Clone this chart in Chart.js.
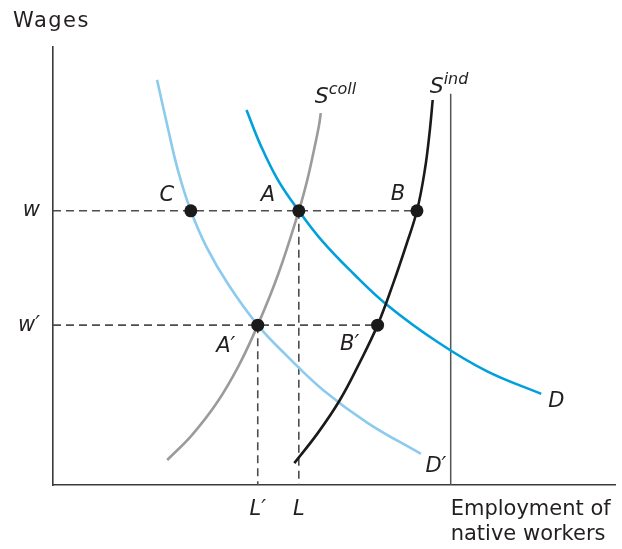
<!DOCTYPE html>
<html>
<head>
<meta charset="utf-8">
<script src="https://cdn.jsdelivr.net/npm/chart.js@4.4.1/dist/chart.umd.min.js"></script>
<style>
  html, body { margin: 0; padding: 0; background: #ffffff; }
  #wrap { width: 622px; height: 549px; position: relative; }
</style>
</head>
<body>
<div id="wrap"><canvas id="c" width="622" height="549"></canvas></div>
<script>
// ---- Data (axis units 0..100) ----
const wageLevels = [62.6, 36.5];            // w, w'
const wageTickLabels = ['w', 'w\u2032'];
const employmentLevels = [36.4, 43.7];      // L', L
const employmentTickLabels = ['L\u2032', 'L'];

// Demand curve D
const demandX = [34.4, 36.9, 40.0, 43.7, 48.0, 53.3, 59.4, 68.3, 77.1, 86.8];
const demandY = [85.6, 77.6, 69.6, 62.6, 55.5, 48.4, 41.1, 32.7, 26.0, 20.8];
// Shifted demand curve D'
const demandPrimeX = [18.5, 20.3, 22.2, 24.5, 27.3, 31.2, 36.4, 41.8, 48.0, 55.9, 65.4];
const demandPrimeY = [92.5, 82.2, 71.9, 62.6, 54.3, 45.7, 36.5, 29.2, 21.7, 14.2, 7.1];
// Collective supply S^coll
const supplyCollX = [20.3, 24.7, 29.1, 33.0, 36.4, 40.0, 43.7, 45.2, 46.4, 47.3, 47.6];
const supplyCollY = [5.7, 11.4, 18.7, 27.2, 36.5, 48.0, 62.6, 69.6, 76.5, 82.2, 84.9];
// Individual supply S^ind
const supplyIndX = [42.9, 47.1, 51.0, 54.5, 57.7, 60.5, 62.8, 64.7, 66.1, 67.0, 67.5];
const supplyIndY = [5.0, 11.9, 19.4, 27.9, 36.5, 46.1, 54.8, 62.6, 71.9, 81.1, 87.9];

// Labelled equilibrium points
const pointNames = ['C', 'A', 'B', 'A\u2032', 'B\u2032'];
const pointX = [24.5, 43.7, 64.7, 36.4, 57.7];
const pointY = [62.6, 62.6, 62.6, 36.5, 36.5];

// Total native labour force (vertical line)
const totalLabor = 70.7;
const totalLaborTop = 89.3;

// ---- Styles (not data) ----
const INK = '#231f20';
const FONT = '"DejaVu Sans"';
const DASH = [8, 5];
const pointLabelOffsets = [[-24, -15], [-31, -15], [-19, -16], [-32, 21], [-28, 19]];

const xy = (xs, ys) => xs.map((x, i) => ({ x: x, y: ys[i] }));

function curve(data, color, width) {
  return { type: 'scatter', data: data, showLine: true, borderColor: color, borderWidth: width,
           pointRadius: 0, tension: 0.4, fill: false };
}
function dashLine(data) {
  return { type: 'scatter', data: data, showLine: true, borderColor: '#4d4d4d', borderWidth: 1.6,
           borderDash: DASH, pointRadius: 0, tension: 0, fill: false };
}

// Chart.js draws the first dataset on top, so list from top to bottom
const datasets = [
  { type: 'scatter', data: xy(pointX, pointY), pointRadius: 6.5, pointBackgroundColor: '#1a1a1a',
    pointBorderColor: '#1a1a1a', pointBorderWidth: 0, showLine: false },
  curve(xy(supplyIndX, supplyIndY), '#1a1a1a', 2.6),
  curve(xy(demandX, demandY), '#00a0dc', 2.6),
  curve(xy(supplyCollX, supplyCollY), '#9b9b9b', 2.6),
  curve(xy(demandPrimeX, demandPrimeY), '#8ccbed', 2.6),
  { type: 'scatter', data: [{ x: totalLabor, y: 0 }, { x: totalLabor, y: totalLaborTop }], showLine: true,
    borderColor: '#555555', borderWidth: 1.5, pointRadius: 0 },
  dashLine([{ x: 0, y: wageLevels[0] }, { x: pointX[2], y: wageLevels[0] }]),
  dashLine([{ x: 0, y: wageLevels[1] }, { x: pointX[4], y: wageLevels[1] }]),
  dashLine([{ x: employmentLevels[1], y: wageLevels[0] }, { x: employmentLevels[1], y: 0 }]),
  dashLine([{ x: employmentLevels[0], y: wageLevels[1] }, { x: employmentLevels[0], y: 0 }])
];

const labelPlugin = {
  id: 'labels',
  afterDraw(chart) {
    const ctx = chart.ctx, xs = chart.scales.x, ys = chart.scales.y;
    ctx.save();
    ctx.fillStyle = INK;
    ctx.textAlign = 'center';
    ctx.textBaseline = 'middle';
    ctx.font = 'italic 21px ' + FONT;
    pointNames.forEach((n, i) => {
      const px = xs.getPixelForValue(pointX[i]) + pointLabelOffsets[i][0];
      const py = ys.getPixelForValue(pointY[i]) + pointLabelOffsets[i][1];
      ctx.fillText(n, px, py);
    });
    // curve end labels
    const dEnd = demandX.length - 1, dpEnd = demandPrimeX.length - 1;
    ctx.fillText('D', xs.getPixelForValue(demandX[dEnd]) + 15, ys.getPixelForValue(demandY[dEnd]) + 8);
    ctx.fillText('D\u2032', xs.getPixelForValue(demandPrimeX[dpEnd]) + 15, ys.getPixelForValue(demandPrimeY[dpEnd]) + 13);
    // supply labels with superscripts
    ctx.textAlign = 'left';
    ctx.textBaseline = 'alphabetic';
    const sc = supplyCollX.length - 1, si = supplyIndX.length - 1;
    let bx = xs.getPixelForValue(supplyCollX[sc]) - 6, by = ys.getPixelForValue(supplyCollY[sc]) - 10;
    ctx.font = 'italic 22px ' + FONT;
    ctx.fillText('S', bx, by);
    let sw = ctx.measureText('S').width;
    ctx.font = 'italic 16px ' + FONT;
    ctx.fillText('coll', bx + sw, by - 9);
    bx = xs.getPixelForValue(supplyIndX[si]) - 3; by = ys.getPixelForValue(supplyIndY[si]) - 7;
    ctx.font = 'italic 22px ' + FONT;
    ctx.fillText('S', bx, by);
    sw = ctx.measureText('S').width;
    ctx.font = 'italic 16px ' + FONT;
    ctx.fillText('ind', bx + sw, by - 9);
    // axis titles
    ctx.font = '21px ' + FONT;
    ctx.letterSpacing = '1.5px';
    ctx.fillText('Wages', 13, 27);
    ctx.letterSpacing = '0px';
    const tx = xs.getPixelForValue(totalLabor) + 0;
    ctx.fillText('Employment of', tx, 515);
    ctx.fillText('native workers', tx, 540);
    ctx.restore();
  }
};

new Chart(document.getElementById('c'), {
  type: 'scatter',
  data: { datasets: datasets },
  options: {
    responsive: false,
    animation: false,
    events: [],
    layout: { padding: { left: 0, top: 47, right: 2, bottom: 0 } },
    plugins: { legend: { display: false }, tooltip: { enabled: false }, title: { display: false } },
    scales: {
      x: {
        type: 'linear', min: 0, max: 100,
        grid: { display: false, drawTicks: false },
        border: { display: true, color: '#3a3a3a', width: 1.6 },
        afterBuildTicks: s => { s.ticks = employmentLevels.map(v => ({ value: v })); },
        afterFit: s => { s.height = 64; },
        ticks: { padding: 12, color: INK, font: { family: 'DejaVu Sans', size: 21, style: 'italic' },
                 maxRotation: 0, autoSkip: false,
                 callback: (v) => employmentTickLabels[employmentLevels.indexOf(v)] }
      },
      y: {
        type: 'linear', min: 0, max: 100,
        grid: { display: false, drawTicks: false },
        border: { display: true, color: '#3a3a3a', width: 1.6 },
        afterBuildTicks: s => { s.ticks = wageLevels.map(v => ({ value: v })); },
        afterFit: s => { s.width = 53; },
        ticks: { padding: 13, color: INK, font: { family: 'DejaVu Sans', size: 21, style: 'italic' },
                 autoSkip: false,
                 callback: (v) => wageTickLabels[wageLevels.indexOf(v)] }
      }
    }
  },
  plugins: [labelPlugin]
});
</script>
</body>
</html>
